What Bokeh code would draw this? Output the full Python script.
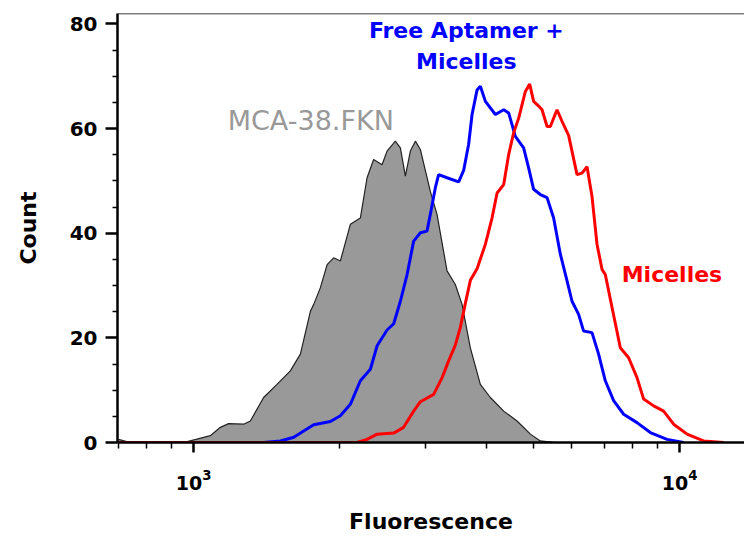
from bokeh.plotting import figure
from bokeh.models import FixedTicker, Span, LogTickFormatter
from bokeh.core.properties import value
from bokeh.embed import file_html
from bokeh.resources import INLINE

# ---------------- data ----------------
# MCA-38.FKN (gray filled histogram)
gray_x = [700, 741, 952, 1016, 1082, 1135, 1180, 1267, 1308, 1393, 1484, 1581, 1658,
          1739, 1766, 1823, 1882, 1941, 2004, 2101, 2203, 2274, 2346, 2441, 2500,
          2600, 2663, 2727, 2792, 2859, 2928, 3069, 3168, 3322, 3455, 3567, 3710,
          3890, 4079, 4345, 4629, 4931, 5169, 5549]
gray_y = [0.6, 0.0, 0.0, 0.65, 1.3, 2.9, 3.6, 3.5, 4.1, 8.6, 11.1, 13.7, 16.9,
          25.1, 26.4, 29.6, 34.0, 35.3, 34.7, 41.7, 42.9, 50.6, 54.1, 53.1, 55.7,
          57.6, 56.3, 50.9, 55.7, 57.6, 56.0, 48.0, 43.6, 32.8, 30.2, 26.4, 18.1,
          11.1, 8.6, 6.0, 4.1, 1.6, 0.3, 0.0]

# Free Aptamer + Micelles (blue line)
blue_x = [700, 1393, 1508, 1607, 1684, 1766, 1911, 2004, 2101, 2203, 2310, 2385,
          2500, 2580, 2663, 2749, 2836, 2928, 3021, 3069, 3143, 3192, 3322, 3510,
          3594, 3680, 3740, 3830, 3890, 3984, 4177, 4345, 4448, 4592, 4775, 4890,
          5007, 5169, 5336, 5505, 5683, 5866, 6006, 6197, 6345, 6603, 6812, 7032,
          7315, 7670, 8172, 8704, 9421, 10190]
blue_y = [0.0, 0.0, 0.3, 1.0, 2.2, 3.4, 4.0, 5.1, 7.3, 11.8, 14.0, 18.5,
          21.5, 22.7, 27.0, 32.1, 38.5, 40.1, 40.4, 43.6, 48.7, 51.2, 50.6, 49.8,
          52.0, 57.0, 62.7, 67.4, 68.1, 65.2, 62.7, 63.6, 63.0, 58.5, 56.3, 52.5,
          48.4, 47.4, 46.8, 42.9, 36.0, 30.9, 27.0, 24.5, 21.3, 21.0, 16.9, 11.8,
          8.0, 5.4, 3.8, 1.9, 0.6, 0.0]

# Micelles (red line)
red_x = [700, 2169, 2274, 2385, 2580, 2704, 2836, 2928, 3118, 3245, 3347, 3455,
         3538, 3623, 3710, 3830, 3984, 4111, 4211, 4345, 4448, 4555, 4665, 4815,
         4914, 5007, 5128, 5211, 5336, 5420, 5594, 5728, 5910, 6150, 6297, 6449,
         6603, 6761, 6923, 7032, 7260, 7551, 7854, 8172, 8433, 8843, 9271, 9720,
         10360, 11200, 12320]
red_y = [0.0, 0.0, 0.6, 1.6, 1.8, 2.9, 6.0, 7.8, 9.2, 12.4, 15.6, 18.6,
         22.0, 26.6, 31.0, 33.2, 37.9, 42.9, 47.7, 49.3, 55.0, 59.2, 62.0, 67.1,
         68.5, 65.2, 64.3, 63.6, 60.4, 60.4, 63.6, 61.4, 58.7, 51.2, 51.5, 52.7,
         47.0, 37.9, 33.1, 32.1, 25.8, 18.1, 16.2, 12.4, 8.3, 7.0, 6.0, 3.5,
         1.6, 0.3, 0.0]

# axes
X_RANGE = (697, 13600)
Y_RANGE = (0, 82)
X_MAJOR = [1000, 10000]
X_MINOR = [700, 800, 900, 2000, 3000, 4000, 5000, 6000, 7000, 8000, 9000]
Y_MAJOR = [0, 20, 40, 60, 80]
Y_MINOR = [5, 10, 15, 25, 30, 35, 45, 50, 55, 65, 70, 75]

# annotations: (text, x, y)
LBL_GRAY = ("MCA-38.FKN", 1175, 61.6)
LBL_BLUE1 = ("Free Aptamer +", 3640, 78.8)
LBL_BLUE2 = ("Micelles", 3640, 72.8)
LBL_RED = ("Micelles", 7600, 32.2)

FONT = "DejaVu Sans"

p = figure(width=744, height=536, x_axis_type="log",
           x_range=X_RANGE, y_range=Y_RANGE,
           output_backend="svg", toolbar_location=None,
           min_border_left=117, min_border_right=0,
           min_border_top=13, min_border_bottom=94)
p.outline_line_color = None
p.grid.visible = False
p.background_fill_color = "white"

p.varea(x=gray_x, y1=0, y2=gray_y, fill_color="#999999")
p.line(gray_x, gray_y, line_color="#222222", line_width=1.2)
p.line(blue_x, blue_y, line_color="#0000ff", line_width=3)
p.line(red_x, red_y, line_color="#ff0000", line_width=3)

for (t, x, y), col, style, size, align in [
        (LBL_GRAY, "#999999", "normal", "27px", "left"),
        (LBL_BLUE1, "#0000ff", "bold", "22px", "center"),
        (LBL_BLUE2, "#0000ff", "bold", "22px", "center"),
        (LBL_RED, "#ff0000", "bold", "22px", "left")]:
    p.text(x=[x], y=[y], text=[t], text_color=col, text_font=value(FONT),
           text_font_style=style, text_font_size=size,
           text_align=align, text_baseline="middle")

p.add_layout(Span(location=Y_RANGE[1], dimension="width",
                  line_color="black", line_width=1.5))

xa = p.xaxis[0]
xa.ticker = FixedTicker(ticks=X_MAJOR, minor_ticks=X_MINOR)
xa.formatter = LogTickFormatter()
ya = p.yaxis[0]
ya.ticker = FixedTicker(ticks=Y_MAJOR, minor_ticks=Y_MINOR)

for ax in (xa, ya):
    ax.axis_line_width = 2.5
    ax.axis_line_color = "black"
    ax.major_tick_line_width = 2.5
    ax.minor_tick_line_width = 1.5
    ax.major_tick_in = 0
    ax.minor_tick_in = 0
    ax.major_label_text_font = FONT
    ax.major_label_text_font_style = "bold"
    ax.major_label_text_color = "black"
    ax.axis_label_text_font = FONT
    ax.axis_label_text_font_style = "bold"
    ax.axis_label_text_font_size = "22px"
    ax.axis_label_text_color = "black"

xa.major_tick_out = 10
xa.minor_tick_out = 6
xa.major_label_text_font_size = "19px"
xa.major_label_standoff = 16
xa.axis_label = "Fluorescence"
xa.axis_label_standoff = 16

ya.major_tick_out = 12
ya.minor_tick_out = 5
ya.major_label_text_font_size = "20px"
ya.major_label_standoff = 8
ya.axis_label = "Count"
ya.axis_label_standoff = 26

open("out.html", "w").write(file_html(p, INLINE))
